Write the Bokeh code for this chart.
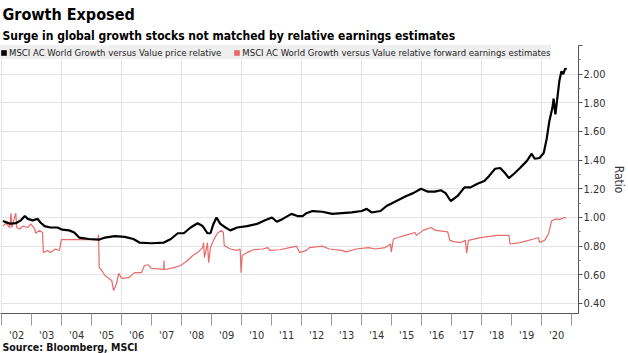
from bokeh.plotting import figure
from bokeh.models import FixedTicker, Title, Legend, LegendItem, NumeralTickFormatter
from bokeh.embed import file_html
from bokeh.resources import INLINE

# ---- data ----
price_years = [2002.04, 2002.27, 2002.47, 2002.64, 2002.77, 2002.87, 2003.03, 2003.20, 2003.29, 2003.43,
               2003.62, 2003.86, 2004.02, 2004.25, 2004.42, 2004.58, 2004.91, 2005.24, 2005.44, 2005.77,
               2006.10, 2006.39, 2006.59, 2006.99, 2007.41, 2007.64, 2007.87, 2008.07, 2008.30, 2008.53,
               2008.70, 2008.86, 2008.96, 2009.06, 2009.16, 2009.29, 2009.46, 2009.62, 2009.85, 2010.18,
               2010.51, 2010.78, 2011.01, 2011.17, 2011.37, 2011.66, 2011.86, 2012.03, 2012.16, 2012.36,
               2012.69, 2013.02, 2013.34, 2013.67, 2014.00, 2014.17, 2014.33, 2014.63, 2014.83, 2015.16,
               2015.49, 2015.72, 2015.98, 2016.21, 2016.44, 2016.64, 2016.80, 2016.97, 2017.20, 2017.43,
               2017.63, 2017.86, 2018.09, 2018.25, 2018.45, 2018.62, 2018.78, 2018.91, 2019.08, 2019.28,
               2019.51, 2019.67, 2019.77, 2019.93, 2020.07, 2020.17, 2020.26, 2020.36, 2020.40, 2020.46,
               2020.56, 2020.59, 2020.66, 2020.72, 2020.79, 2020.82]
price_relative = [0.975, 0.957, 0.96, 0.98, 1.01, 0.99, 0.98, 0.99, 0.965, 0.94,
                  0.93, 0.93, 0.915, 0.91, 0.895, 0.86, 0.85, 0.845, 0.86, 0.87,
                  0.865, 0.85, 0.825, 0.82, 0.825, 0.85, 0.89, 0.89, 0.93, 0.96,
                  0.94, 0.89, 0.89, 0.955, 1.0, 0.955, 0.93, 0.91, 0.93, 0.94,
                  0.955, 0.98, 1.0, 0.97, 0.99, 1.025, 1.01, 1.01, 1.03, 1.045,
                  1.04, 1.025, 1.03, 1.035, 1.045, 1.06, 1.035, 1.045, 1.08, 1.115,
                  1.15, 1.17, 1.2, 1.18, 1.18, 1.19, 1.17, 1.115, 1.15, 1.21,
                  1.21, 1.235, 1.255, 1.29, 1.34, 1.345, 1.31, 1.275, 1.305, 1.345,
                  1.395, 1.445, 1.41, 1.415, 1.45, 1.55, 1.675, 1.765, 1.83, 1.72,
                  1.895, 1.95, 2.02, 2.0, 2.04, 2.03]

earn_years = [2002.04, 2002.14, 2002.27, 2002.31, 2002.34, 2002.47, 2002.50, 2002.60, 2002.70, 2002.87,
              2002.97, 2003.10, 2003.13, 2003.26, 2003.36, 2003.39, 2003.53, 2003.62, 2003.79, 2003.92,
              2003.95, 2003.99, 2005.21, 2005.23, 2005.25, 2005.34, 2005.44, 2005.57, 2005.67, 2005.73,
              2005.83, 2005.90, 2006.00, 2006.23, 2006.43, 2006.66, 2006.76, 2006.89, 2006.99, 2007.31,
              2007.40, 2007.41, 2007.42, 2007.74, 2007.97, 2008.20, 2008.37, 2008.53, 2008.70, 2008.73,
              2008.76, 2008.86, 2008.90, 2008.96, 2009.06, 2009.19, 2009.32, 2009.39, 2009.42, 2009.62,
              2009.85, 2009.95, 2009.98, 2010.02, 2010.18, 2010.38, 2010.71, 2010.87, 2010.94, 2011.27,
              2011.60, 2011.83, 2011.93, 2012.16, 2012.26, 2012.69, 2012.92, 2013.34, 2013.48, 2013.81,
              2014.23, 2014.46, 2014.79, 2014.96, 2014.99, 2015.06, 2015.22, 2015.45, 2015.78, 2015.82,
              2016.05, 2016.31, 2016.47, 2016.87, 2016.94, 2017.10, 2017.30, 2017.46, 2017.50, 2017.56,
              2017.96, 2018.52, 2018.91, 2018.95, 2019.28, 2019.74, 2019.90, 2019.93, 2020.10, 2020.23,
              2020.33, 2020.49, 2020.59, 2020.76, 2020.82]
earn_relative = [0.94, 0.96, 0.93, 1.03, 0.93, 1.03, 0.93, 0.92, 0.94, 0.93,
                 0.955, 0.92, 0.89, 0.91, 0.895, 0.755, 0.77, 0.755, 0.78, 0.77,
                 0.80, 0.845, 0.845, 0.88, 0.65, 0.63, 0.595, 0.575, 0.56, 0.49,
                 0.54, 0.61, 0.575, 0.58, 0.615, 0.615, 0.665, 0.67, 0.645, 0.64,
                 0.64, 0.70, 0.635, 0.65, 0.665, 0.70, 0.735, 0.755, 0.79, 0.825,
                 0.72, 0.825, 0.685, 0.79, 0.84, 0.89, 0.91, 0.895, 0.805, 0.78,
                 0.77, 0.78, 0.615, 0.735, 0.755, 0.775, 0.78, 0.79, 0.77, 0.775,
                 0.79, 0.80, 0.755, 0.77, 0.79, 0.80, 0.78, 0.77, 0.76, 0.78,
                 0.79, 0.78, 0.79, 0.815, 0.76, 0.85, 0.86, 0.875, 0.895, 0.875,
                 0.91, 0.93, 0.91, 0.90, 0.84, 0.83, 0.825, 0.84, 0.75, 0.84,
                 0.86, 0.875, 0.875, 0.815, 0.825, 0.85, 0.86, 0.825, 0.84, 0.885,
                 0.975, 0.99, 0.985, 1.0, 0.995]

year_labels = ["'02", "'03", "'04", "'05", "'06", "'07", "'08", "'09", "'10", "'11",
               "'12", "'13", "'14", "'15", "'16", "'17", "'18", "'19", "'20"]
first_year = 2002
y_ticks = [0.4, 0.6, 0.8, 1.0, 1.2, 1.4, 1.6, 1.8, 2.0, 2.2]
series_names = ["MSCI AC World Growth versus Value price relative",
                "MSCI AC World Growth versus Value relative forward earnings estimates"]

BLACK = "#000000"
RED = "#e86a6a"
FONT = "DejaVu Sans Condensed"

p = figure(width=628, height=353, x_range=(2001.96, 2021.23), y_range=(0.33, 2.2),
           output_backend="svg", toolbar_location=None, title_location=None,
           y_axis_location="right", min_border_left=0, min_border_right=45,
           min_border_top=45, min_border_bottom=40)
p.outline_line_color = None
p.background_fill_color = "white"

# x axis: labels at mid-year, separators at year boundaries
n = len(year_labels)
mid = [first_year + i + 0.5 for i in range(n)]
bounds = [first_year + i for i in range(n + 1)]
xa = p.xaxis[0]
xa.ticker = FixedTicker(ticks=mid, minor_ticks=bounds)
xa.major_label_overrides = {m: lab for m, lab in zip(mid, year_labels)}
xa.major_tick_out = 0
xa.major_tick_in = 0
xa.minor_tick_out = 12
xa.minor_tick_in = 0
xa.minor_tick_line_color = "#9a9a9a"
xa.axis_line_color = "#555555"
xa.major_label_standoff = 3
xa.major_label_text_font = FONT
xa.major_label_text_font_size = "11px"
xa.major_label_text_color = "#333333"

# y axis on the right
ya = p.yaxis[0]
ya.ticker = FixedTicker(ticks=y_ticks, minor_ticks=[t + 0.1 for t in y_ticks[:-1]])
ya.formatter = NumeralTickFormatter(format="0.00")
ya.major_label_overrides = {2.2: ""}
ya.major_tick_out = 4
ya.major_tick_in = 0
ya.minor_tick_out = 2
ya.minor_tick_in = 0
ya.axis_line_color = "#555555"
ya.major_tick_line_color = "#555555"
ya.minor_tick_line_color = "#777777"
ya.major_label_standoff = 1
ya.major_label_text_font = FONT
ya.major_label_text_font_size = "11px"
ya.major_label_text_color = "#333333"
ya.axis_label = "Ratio"
ya.axis_label_standoff = 3
ya.axis_label_text_font = FONT
ya.axis_label_text_font_size = "12px"
ya.axis_label_text_font_style = "normal"
ya.axis_label_text_color = "#333333"

p.xgrid.ticker = FixedTicker(ticks=[y for y in bounds if y % 2 == 0])
p.xgrid.grid_line_color = "#e4e4e4"
p.ygrid.grid_line_color = "#e4e4e4"

p.line(earn_years, earn_relative, line_color=RED, line_width=1.2)
p.line(price_years, price_relative, line_color=BLACK, line_width=2.2)

# legend swatches (squares): zero-size quads at each series' first point
r1 = p.quad(left=price_years[:1], right=price_years[:1], top=price_relative[:1],
            bottom=price_relative[:1], fill_color=BLACK, line_color=None)
r2 = p.quad(left=earn_years[:1], right=earn_years[:1], top=earn_relative[:1],
            bottom=earn_relative[:1], fill_color=RED, line_color=None)
legend = Legend(items=[LegendItem(label=series_names[0], renderers=[r1]),
                       LegendItem(label=series_names[1], renderers=[r2])],
                location="top_left", orientation="horizontal",
                background_fill_color="#efefef", background_fill_alpha=1,
                border_line_color=None, glyph_width=7, glyph_height=7,
                label_text_font=FONT, label_text_font_size="9.5px",
                label_text_color="#222222", label_standoff=2, label_height=14,
                padding=6, spacing=12, margin=0)
p.add_layout(legend)

sub = Title(text="Surge in global growth stocks not matched by relative earnings estimates",
            align="left", text_font=FONT, text_font_size="12px", text_font_style="bold",
            text_color="#000000", offset=2, standoff=6)
main = Title(text="Growth Exposed", align="left", text_font=FONT, text_font_size="16px",
             text_font_style="bold", text_color="#000000", offset=2, standoff=0)
p.add_layout(sub, "above")
p.add_layout(main, "above")

src = Title(text="Source: Bloomberg, MSCI", align="left", vertical_align="top",
            text_font=FONT, text_font_size="10.5px", text_font_style="bold",
            text_color="#111111", offset=2, standoff=-8)
p.add_layout(src, "below")

open("out.html", "w").write(file_html(p, INLINE))
